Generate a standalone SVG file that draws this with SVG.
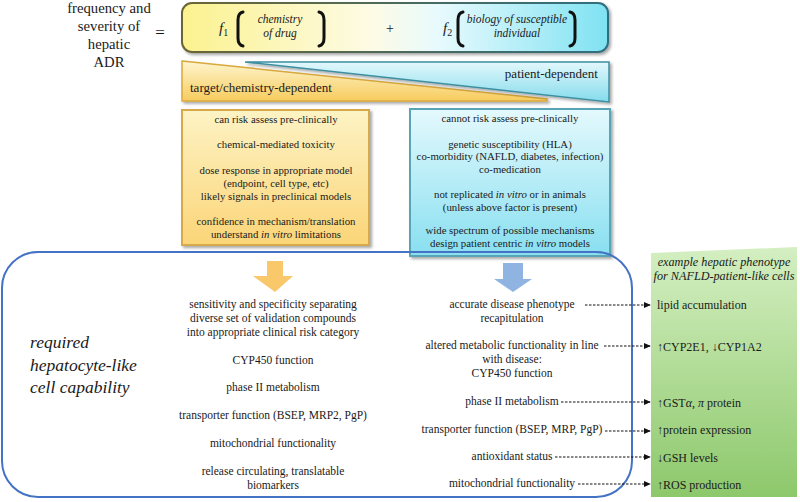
<svg xmlns="http://www.w3.org/2000/svg" width="800" height="502" viewBox="0 0 800 502" font-family="'Liberation Serif', 'DejaVu Serif', serif">
<defs>
<style>
text{font-family:'Liberation Serif','DejaVu Serif',serif;fill:#1a1a1a}
.t14{font-size:14.7px;text-anchor:middle}
.t13{font-size:13px}
.t10{font-size:10.8px;text-anchor:middle}
.ts{font-size:11.5px;text-anchor:middle}
.t105{font-size:11.5px;text-anchor:middle}
.it{font-style:italic}
.g12{font-size:12px}
.g13{font-size:12.2px;text-anchor:middle;font-style:italic}
.dash{stroke:#111;stroke-width:1;stroke-dasharray:2.5,1.5;fill:none;marker-end:url(#ah)}
.brk{fill:none;stroke:#111;stroke-width:3;stroke-linecap:round}
</style>
<linearGradient id="topg" x1="0" y1="0" x2="1" y2="0">
<stop offset="0" stop-color="#fbf28f"/><stop offset="0.45" stop-color="#fdfbe6"/><stop offset="0.6" stop-color="#e8fafd"/><stop offset="1" stop-color="#7fe2f2"/>
</linearGradient>
<linearGradient id="topb" x1="0" y1="0" x2="1" y2="0">
<stop offset="0" stop-color="#6b6535"/><stop offset="1" stop-color="#2f6f80"/>
</linearGradient>
<linearGradient id="yw" x1="0" y1="0" x2="0" y2="1">
<stop offset="0" stop-color="#fef5cf"/><stop offset="1" stop-color="#f7cc5e"/>
</linearGradient>
<linearGradient id="cw" x1="0" y1="0" x2="0" y2="1">
<stop offset="0" stop-color="#e2f8fc"/><stop offset="1" stop-color="#84dbec"/>
</linearGradient>
<linearGradient id="yb" x1="0" y1="0" x2="0" y2="1">
<stop offset="0" stop-color="#fdf3c4"/><stop offset="1" stop-color="#fbd578"/>
</linearGradient>
<linearGradient id="cb" x1="0" y1="0" x2="0" y2="1">
<stop offset="0" stop-color="#e4f9fd"/><stop offset="1" stop-color="#88dff0"/>
</linearGradient>
<linearGradient id="gr" x1="0" y1="0" x2="0" y2="1">
<stop offset="0" stop-color="#d4efc2"/><stop offset="1" stop-color="#8dc86b"/>
</linearGradient>
<filter id="sh" x="-10%" y="-10%" width="130%" height="130%">
<feDropShadow dx="2" dy="2" stdDeviation="1.5" flood-color="#000" flood-opacity="0.35"/>
</filter>
<marker id="ah" viewBox="0 0 8 8" refX="7" refY="4" markerWidth="7" markerHeight="7" orient="auto" markerUnits="userSpaceOnUse">
<path d="M0,0.5 L8,4 L0,7.5 Z" fill="#111"/>
</marker>
</defs>

<g id="title">
<text class="t14" x="109" y="13">frequency and</text>
<text class="t14" x="109" y="31">severity of</text>
<text class="t14" x="109" y="49">hepatic</text>
<text class="t14" x="109" y="67">ADR</text>
<text x="160" y="38" style="font-size:17px;text-anchor:middle">=</text>
</g>

<g id="equation">
<rect x="182" y="3" width="426" height="49" rx="10" fill="url(#topg)" stroke="url(#topb)" stroke-width="2" filter="url(#sh)"/>
<text x="219" y="33" class="it" style="font-size:15px">f<tspan dy="3" style="font-size:10px;font-style:normal">1</tspan></text>
<path class="brk" d="M243,12 Q238,13 238,20 L238,38 Q238,45 243,46"/>
<text class="ts it" x="280" y="23">chemistry</text>
<text class="ts it" x="280" y="37">of drug</text>
<path class="brk" d="M319,12 Q324,13 324,20 L324,38 Q324,45 319,46"/>
<text x="390" y="33" style="font-size:14px;text-anchor:middle">+</text>
<text x="443" y="33" class="it" style="font-size:15px">f<tspan dy="3" style="font-size:10px;font-style:normal">2</tspan></text>
<path class="brk" d="M463,12 Q458,13 458,20 L458,38 Q458,45 463,46"/>
<text class="ts it" x="517" y="23">biology of susceptible</text>
<text class="ts it" x="517" y="37">individual</text>
<path class="brk" d="M570,12 Q575,13 575,20 L575,38 Q575,45 570,46"/>
</g>

<g id="wedge-target">
<polygon points="182,61 547,99 547,101 182,101" fill="url(#yw)" stroke="#d9a93e" stroke-width="1.5" filter="url(#sh)"/>
<text class="t13" x="190" y="92">target/chemistry-dependent</text>
</g>
<g id="wedge-patient">
<polygon points="245,62 609,62 609,102" fill="url(#cw)" stroke="#3d8fa0" stroke-width="1.5" filter="url(#sh)"/>
<text class="t13" x="598" y="78" text-anchor="end">patient-dependent</text>
</g>

<g id="box-chemistry">
<rect x="182" y="110" width="187" height="135" fill="url(#yb)" stroke="#d6aa4c" stroke-width="2" filter="url(#sh)"/>
<text class="t10" x="276" y="123">can risk assess pre-clinically</text>
<text class="t10" x="276" y="148">chemical-mediated toxicity</text>
<text class="t10" x="276" y="174">dose response in appropriate model</text>
<text class="t10" x="276" y="187">(endpoint, cell type, etc)</text>
<text class="t10" x="276" y="200">likely signals in preclinical models</text>
<text class="t10" x="276" y="225">confidence in mechanism/translation</text>
<text class="t10" x="276" y="238">understand <tspan class="it">in vitro</tspan> limitations</text>
</g>

<g id="box-patient">
<rect x="410" y="109" width="200" height="147" fill="url(#cb)" stroke="#5aa5b5" stroke-width="2" filter="url(#sh)"/>
<text class="t10" x="510" y="122">cannot risk assess pre-clinically</text>
<text class="t10" x="510" y="148">genetic susceptibility (HLA)</text>
<text class="t10" x="510" y="160">co-morbidity (NAFLD, diabetes, infection)</text>
<text class="t10" x="510" y="173">co-medication</text>
<text class="t10" x="510" y="198">not replicated <tspan class="it">in vitro</tspan> or in animals</text>
<text class="t10" x="510" y="211">(unless above factor is present)</text>
<text class="t10" x="510" y="234">wide spectrum of possible mechanisms</text>
<text class="t10" x="510" y="247">design patient centric <tspan class="it">in vitro</tspan> models</text>
</g>

<g id="capability">
<rect x="2" y="252" width="630" height="245" rx="36" fill="none" stroke="#4472c4" stroke-width="2"/>
<text x="30" y="348" class="it" style="font-size:17.5px">required</text>
<text x="30" y="371" class="it" style="font-size:17.5px">hepatocyte-like</text>
<text x="30" y="393" class="it" style="font-size:17.5px">cell capability</text>
</g>

<g id="arrow-yellow">
<polygon points="267,261 283,261 283,276 293,276 275,292 253,276 267,276" fill="#f8c86a"/>
</g>
<g id="arrow-blue">
<polygon points="503,263 523,263 523,279 532,279 513,292 494,279 503,279" fill="#8fb4e2"/>
</g>

<g id="list-general">
<text class="t105" x="273" y="308">sensitivity and specificity separating</text>
<text class="t105" x="273" y="322">diverse set of validation compounds</text>
<text class="t105" x="273" y="336">into appropriate clinical risk category</text>
<text class="t105" x="273" y="364">CYP450 function</text>
<text class="t105" x="273" y="391">phase II metabolism</text>
<text class="t105" x="273" y="419">transporter function (BSEP, MRP2, PgP)</text>
<text class="t105" x="273" y="447">mitochondrial functionality</text>
<text class="t105" x="273" y="475">release circulating, translatable</text>
<text class="t105" x="273" y="489">biomarkers</text>
</g>

<g id="list-patient">
<text class="t105" x="512" y="308">accurate disease phenotype</text>
<text class="t105" x="512" y="322">recapitulation</text>
<text class="t105" x="512" y="349">altered metabolic functionality in line</text>
<text class="t105" x="512" y="363">with disease:</text>
<text class="t105" x="512" y="377">CYP450 function</text>
<text class="t105" x="512" y="405">phase II metabolism</text>
<text class="t105" x="512" y="433">transporter function (BSEP, MRP, PgP)</text>
<text class="t105" x="512" y="460">antioxidant status</text>
<text class="t105" x="512" y="487">mitochondrial functionality</text>
</g>

<g id="phenotype">
<polygon points="651,253 797,247 797,497 651,497" fill="url(#gr)"/>
<text class="g13" x="724" y="266">example hepatic phenotype</text>
<text class="g13" x="724" y="280">for NAFLD-patient-like cells</text>
<text class="g12" x="657" y="309">lipid accumulation</text>
<text class="g12" x="657" y="351">↑CYP2E1, ↓CYP1A2</text>
<text class="g12" x="657" y="407">↑GST<tspan class="it">α</tspan>, <tspan class="it">π</tspan> protein</text>
<text class="g12" x="657" y="434">↑protein expression</text>
<text class="g12" x="657" y="462">↓GSH levels</text>
<text class="g12" x="657" y="489">↑ROS production</text>
</g>

<g id="connectors">
<line class="dash" x1="585" y1="305" x2="650" y2="305"/>
<line class="dash" x1="604" y1="346" x2="650" y2="346"/>
<line class="dash" x1="561" y1="402" x2="650" y2="402"/>
<line class="dash" x1="605" y1="431" x2="650" y2="431"/>
<line class="dash" x1="555" y1="457" x2="650" y2="457"/>
<line class="dash" x1="578" y1="484" x2="650" y2="484"/>
</g>
</svg>
